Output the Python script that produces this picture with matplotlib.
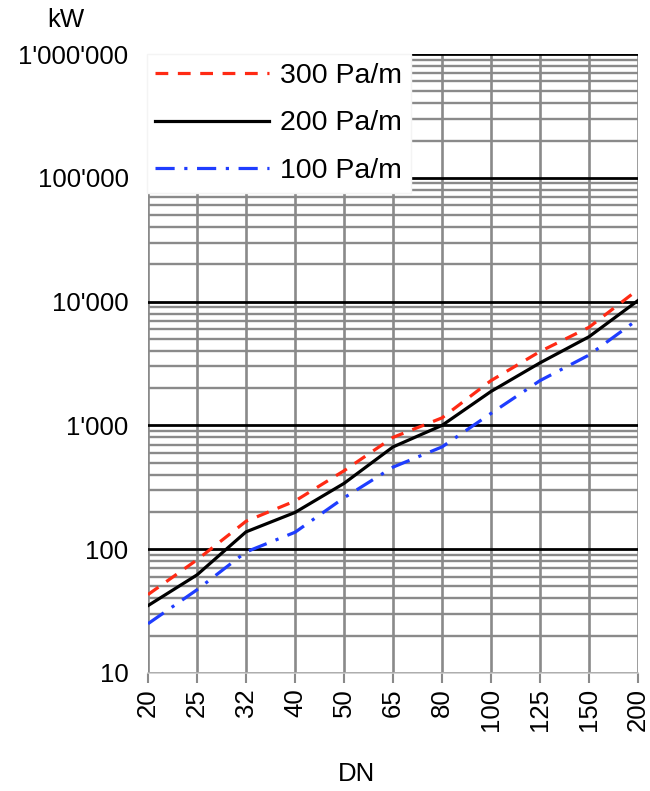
import matplotlib.pyplot as plt
import numpy as np
from matplotlib.ticker import FixedLocator, LogLocator, NullFormatter

plt.rcParams['font.family'] = ['Liberation Sans', 'DejaVu Sans']

dn = ['20', '25', '32', '40', '50', '65', '80', '100', '125', '150', '200']
p300 = [43, 82, 168, 245, 430, 800, 1150, 2300, 3950, 6200, 12500]
p200 = [35, 62, 138, 198, 340, 670, 1000, 1880, 3200, 5200, 10200]
p100 = [25, 47, 95, 137, 260, 460, 670, 1250, 2300, 3700, 7200]
ytick_vals = [10, 100, 1000, 10000, 100000, 1000000]
ytick_labels = ["10", "100", "1'000", "10'000", "100'000", "1'000'000"]

fig = plt.figure(figsize=(6.5, 7.91), dpi=100)
ax = fig.add_axes([0.2277, 0.1492, 0.7538, 0.7825])

x = np.arange(len(dn))
fs = 18.5

ax.set_yscale('log')
ax.set_ylim(10, 1000000)
ax.set_xlim(0, len(dn) - 1)

# grid
ax.yaxis.set_minor_locator(LogLocator(base=10, subs=np.arange(2, 10)))
ax.yaxis.set_minor_formatter(NullFormatter())
ax.grid(which='minor', axis='y', color='#8a8a8a', lw=1.7, zorder=0)
ax.grid(which='major', axis='y', color='black', lw=2.0, zorder=0.5)
ax.grid(which='major', axis='x', color='#8a8a8a', lw=1.9, zorder=0)

ax.plot(x, p300, color='#ff2a14', lw=2.3, dashes=(4, 3), label='300 Pa/m', zorder=3)
ax.plot(x, p200, color='black', lw=2.3, label='200 Pa/m', zorder=3)
ax.plot(x, p100, color='#1f3dff', lw=2.3, dashes=(6, 3, 1, 3), label='100 Pa/m', zorder=3)

ax.set_xticks(x)
ax.set_xticklabels(dn, rotation=90, fontsize=fs)
ax.yaxis.set_major_locator(FixedLocator(ytick_vals))
ax.set_yticklabels(ytick_labels, fontsize=fs)
ax.tick_params(axis='y', which='both', length=0, pad=14)
ax.tick_params(axis='x', length=7, width=1.5, color='#8a8a8a', pad=4)

for s in ['top', 'left', 'right']:
    ax.spines[s].set_visible(False)
ax.spines['bottom'].set_color('#cccccc')
ax.spines['bottom'].set_linewidth(1.2)

leg = ax.legend(loc='upper left', bbox_to_anchor=(-0.003, 1.0), borderaxespad=0,
                fontsize=20.5, handlelength=4.0, handletextpad=0.4,
                labelspacing=0.77, frameon=True, fancybox=False,
                framealpha=1.0, edgecolor='#f4f4f4', borderpad=0.3)
leg.set_zorder(5)

fig.text(66 / 650, 1 - 20 / 791, 'kW', fontsize=fs, ha='center', va='center')
fig.text(356 / 650, 1 - 774 / 791, 'DN', fontsize=fs, ha='center', va='center')

fig.savefig('out.png', dpi=100)
